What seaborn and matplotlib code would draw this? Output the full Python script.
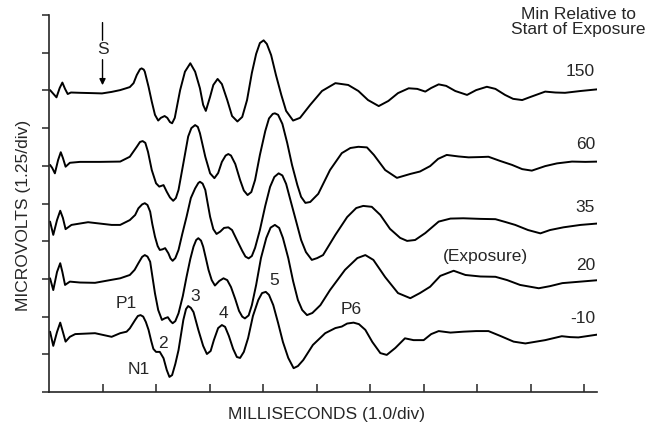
import matplotlib
matplotlib.use("Agg")
import matplotlib.pyplot as plt
import seaborn as sns
import pandas as pd

# ---- data (ms, microvolts) ----
labels = ["150", "60", "35", "20", "-10"]

t150_x = [0.02, 0.07, 0.14, 0.20, 0.25, 0.30, 0.35, 0.41, 0.58, 0.80, 0.99, 1.17, 1.33, 1.44, 1.51, 1.58,
          1.64, 1.70, 1.73, 1.77, 1.79, 1.86, 1.92, 1.98, 2.04, 2.09, 2.16, 2.21, 2.26, 2.30, 2.35, 2.39,
          2.45, 2.54, 2.64, 2.73, 2.82, 2.88, 2.93, 3.01, 3.07, 3.15, 3.23, 3.33, 3.42, 3.52, 3.61, 3.70,
          3.79, 3.87, 3.94, 4.01, 4.07, 4.15, 4.24, 4.34, 4.43, 4.56, 4.69, 4.88, 5.10, 5.35, 5.59, 5.78,
          5.96, 6.16, 6.34, 6.52, 6.72, 6.88, 7.03, 7.14, 7.28, 7.42, 7.59, 7.81, 7.98, 8.18, 8.34, 8.52,
          8.67, 8.84, 8.99, 9.27, 9.46, 9.64, 9.93, 10.27]
t150_y = [10.01, 9.91, 9.77, 10.08, 10.26, 10.05, 9.88, 9.93, 9.92, 9.91, 9.90, 9.95, 10.01, 10.07, 10.11, 10.24,
          10.51, 10.70, 10.73, 10.69, 10.62, 10.12, 9.63, 9.19, 9.00, 9.09, 9.15, 9.09, 8.95, 8.91, 9.09, 9.46,
          10.01, 10.62, 10.90, 10.62, 10.07, 9.52, 9.32, 9.79, 10.18, 10.38, 10.21, 9.68, 9.15, 8.97, 9.12, 9.68,
          10.58, 11.21, 11.57, 11.66, 11.54, 11.17, 10.51, 9.85, 9.32, 9.00, 9.09, 9.52, 9.98, 10.24, 10.18, 9.98,
          9.68, 9.48, 9.65, 9.91, 10.07, 10.05, 9.96, 10.08, 10.20, 10.15, 9.98, 9.85, 10.01, 10.12, 10.05, 9.85,
          9.72, 9.68, 9.78, 9.96, 9.93, 9.92, 9.98, 10.04]

t60_x = [0.02, 0.06, 0.11, 0.17, 0.22, 0.26, 0.31, 0.39, 0.58, 0.95, 1.33, 1.51, 1.64, 1.70, 1.75, 1.80,
         1.85, 1.92, 2.00, 2.06, 2.14, 2.20, 2.26, 2.32, 2.37, 2.42, 2.51, 2.60, 2.66, 2.73, 2.78, 2.82,
         2.92, 3.01, 3.09, 3.16, 3.23, 3.30, 3.35, 3.40, 3.48, 3.57, 3.64, 3.71, 3.78, 3.85, 3.94, 4.04,
         4.11, 4.18, 4.22, 4.28, 4.36, 4.45, 4.54, 4.64, 4.71, 4.79, 4.88, 5.03, 5.25, 5.47, 5.63, 5.78,
         5.94, 6.07, 6.28, 6.50, 6.75, 6.93, 7.12, 7.27, 7.43, 7.65, 7.84, 8.06, 8.21, 8.43, 8.65, 8.84,
         9.02, 9.27, 9.49, 9.77, 10.02, 10.27]
t60_y = [7.53, 7.43, 7.25, 7.69, 7.95, 7.76, 7.47, 7.60, 7.63, 7.63, 7.64, 7.80, 8.13, 8.29, 8.32, 8.26,
         7.96, 7.36, 6.92, 6.81, 6.86, 6.64, 6.45, 6.34, 6.43, 6.70, 7.58, 8.47, 8.75, 8.85, 8.79, 8.58,
         7.80, 7.25, 7.09, 7.26, 7.63, 7.84, 7.89, 7.84, 7.56, 7.03, 6.68, 6.53, 6.63, 7.03, 7.86, 8.65,
         9.07, 9.22, 9.24, 9.19, 8.89, 8.26, 7.53, 6.86, 6.47, 6.27, 6.30, 6.57, 7.36, 7.92, 8.09, 8.13,
         8.11, 7.86, 7.36, 7.10, 7.23, 7.31, 7.49, 7.73, 7.86, 7.81, 7.78, 7.79, 7.80, 7.66, 7.53, 7.39,
         7.34, 7.49, 7.58, 7.64, 7.63, 7.64]

t35_x = [0.02, 0.08, 0.15, 0.21, 0.26, 0.31, 0.42, 0.73, 1.17, 1.33, 1.51, 1.61, 1.67, 1.74, 1.79, 1.84,
         1.89, 1.93, 1.98, 2.03, 2.07, 2.12, 2.17, 2.23, 2.27, 2.31, 2.36, 2.42, 2.49, 2.57, 2.65, 2.73,
         2.79, 2.82, 2.87, 2.92, 2.96, 3.01, 3.07, 3.13, 3.20, 3.27, 3.35, 3.42, 3.51, 3.61, 3.67, 3.73,
         3.79, 3.85, 3.94, 4.04, 4.13, 4.21, 4.29, 4.36, 4.43, 4.52, 4.62, 4.71, 4.80, 4.91, 5.01, 5.12,
         5.35, 5.57, 5.74, 5.87, 6.03, 6.19, 6.37, 6.56, 6.69, 6.84, 7.03, 7.28, 7.50, 7.74, 8.06, 8.34,
         8.52, 8.71, 8.95, 9.18, 9.36, 9.61, 9.93, 10.27]
t35_y = [5.65, 5.21, 5.70, 6.01, 5.77, 5.40, 5.54, 5.63, 5.54, 5.54, 5.70, 5.87, 6.09, 6.22, 6.26, 6.20,
         5.98, 5.57, 5.15, 4.84, 4.71, 4.73, 4.77, 4.60, 4.43, 4.35, 4.44, 4.71, 5.24, 5.81, 6.43, 6.75,
         6.93, 6.97, 6.91, 6.70, 6.30, 5.81, 5.40, 5.24, 5.32, 5.44, 5.46, 5.37, 5.04, 4.68, 4.49, 4.43,
         4.51, 4.78, 5.37, 6.17, 6.80, 7.13, 7.25, 7.18, 6.90, 6.30, 5.64, 5.04, 4.64, 4.38, 4.44, 4.54,
         5.21, 5.80, 6.10, 6.17, 6.14, 5.87, 5.41, 5.11, 5.01, 5.04, 5.27, 5.65, 5.75, 5.76, 5.74, 5.73,
         5.64, 5.54, 5.37, 5.26, 5.37, 5.46, 5.54, 5.59]

t20_x = [0.02, 0.08, 0.15, 0.21, 0.25, 0.30, 0.39, 0.58, 0.86, 1.14, 1.33, 1.51, 1.60, 1.67, 1.74, 1.79,
         1.84, 1.89, 1.93, 1.98, 2.04, 2.11, 2.16, 2.22, 2.27, 2.31, 2.36, 2.42, 2.50, 2.57, 2.64, 2.70,
         2.75, 2.79, 2.84, 2.88, 2.93, 2.98, 3.04, 3.10, 3.18, 3.26, 3.33, 3.40, 3.48, 3.55, 3.61, 3.66,
         3.73, 3.79, 3.87, 3.96, 4.06, 4.14, 4.22, 4.30, 4.37, 4.47, 4.56, 4.65, 4.73, 4.82, 4.92, 5.07,
         5.25, 5.53, 5.76, 5.91, 6.06, 6.28, 6.52, 6.75, 6.93, 7.12, 7.31, 7.56, 7.78, 8.06, 8.34, 8.56,
         8.80, 9.15, 9.36, 9.59, 9.93, 10.27]
t20_y = [3.77, 3.38, 3.98, 4.27, 3.98, 3.55, 3.66, 3.63, 3.62, 3.71, 3.77, 3.88, 4.05, 4.27, 4.48, 4.54,
         4.49, 4.32, 3.85, 3.27, 2.72, 2.39, 2.44, 2.48, 2.35, 2.28, 2.35, 2.61, 3.18, 3.82, 4.41, 4.82,
         5.04, 5.10, 5.02, 4.82, 4.44, 4.05, 3.71, 3.53, 3.68, 3.77, 3.71, 3.48, 3.08, 2.69, 2.50, 2.44,
         2.54, 2.88, 3.55, 4.44, 5.11, 5.45, 5.54, 5.44, 5.11, 4.44, 3.68, 3.05, 2.72, 2.55, 2.62, 2.88,
         3.38, 4.05, 4.44, 4.54, 4.38, 3.81, 3.28, 3.11, 3.28, 3.49, 3.85, 4.02, 3.88, 3.83, 3.82, 3.71,
         3.55, 3.44, 3.51, 3.61, 3.66, 3.71]

tm10_x = [0.02, 0.08, 0.15, 0.21, 0.26, 0.31, 0.39, 0.49, 0.86, 1.17, 1.33, 1.45, 1.51, 1.61, 1.66, 1.71,
          1.76, 1.81, 1.86, 1.91, 1.95, 2.00, 2.07, 2.14, 2.20, 2.25, 2.30, 2.36, 2.42, 2.51, 2.56, 2.60,
          2.65, 2.70, 2.79, 2.88, 2.95, 3.02, 3.08, 3.16, 3.23, 3.29, 3.36, 3.44, 3.51, 3.57, 3.64, 3.72,
          3.81, 3.91, 3.98, 4.05, 4.11, 4.19, 4.28, 4.37, 4.47, 4.57, 4.65, 4.75, 4.93, 5.16, 5.35, 5.47,
          5.57, 5.69, 5.79, 5.91, 6.04, 6.19, 6.31, 6.47, 6.65, 6.81, 7.00, 7.14, 7.28, 7.50, 7.74, 7.98,
          8.21, 8.43, 8.68, 8.90, 9.27, 9.58, 9.74, 9.89, 10.27]
tm10_y = [2.00, 1.53, 1.99, 2.30, 1.99, 1.67, 1.83, 1.92, 1.95, 1.83, 1.95, 2.00, 2.11, 2.39, 2.52, 2.55,
          2.50, 2.32, 2.06, 1.69, 1.43, 1.33, 1.33, 1.12, 0.73, 0.50, 0.56, 0.93, 1.39, 2.39, 2.75, 2.85,
          2.79, 2.65, 2.06, 1.53, 1.26, 1.36, 1.72, 2.12, 2.22, 2.16, 1.86, 1.43, 1.16, 1.13, 1.33, 1.79,
          2.52, 3.05, 3.28, 3.32, 3.22, 2.88, 2.29, 1.66, 1.13, 0.79, 0.86, 1.06, 1.56, 1.95, 2.12, 2.17,
          2.27, 2.30, 2.25, 2.06, 1.66, 1.29, 1.23, 1.46, 1.78, 1.72, 1.72, 1.92, 2.02, 1.97, 2.00, 2.02,
          2.02, 1.86, 1.67, 1.61, 1.72, 1.85, 1.82, 1.81, 1.91]

xs = [t150_x, t60_x, t35_x, t20_x, tm10_x]
ys = [t150_y, t60_y, t35_y, t20_y, tm10_y]

# label positions (data coords)
label_y = [10.61, 8.19, 6.13, 4.18, 2.45]
peak_names = ["P1", "N1", "2", "3", "4", "5", "P6"]
peak_x = [1.45, 1.67, 2.12, 2.73, 3.25, 4.21, 5.64]
peak_y = [2.94, 0.73, 1.61, 3.18, 2.61, 3.69, 2.74]

frames = []
for lab, x, y in zip(labels, xs, ys):
    frames.append(pd.DataFrame({"ms": x, "uV": y, "trace": lab}))
df = pd.concat(frames, ignore_index=True)

sns.set_style("ticks")
plt.rcParams["font.family"] = ["Liberation Sans", "DejaVu Sans"]

fig = plt.figure(figsize=(6.62, 4.26), dpi=100)
ax = fig.add_axes([0.074, 0.0798, 0.828, 0.885])

sns.lineplot(data=df, x="ms", y="uV", hue="trace", units="trace", estimator=None, sort=False,
             palette={l: "black" for l in labels}, linewidth=1.4, legend=False, ax=ax,
             solid_joinstyle="round", solid_capstyle="round")

ax.set_xlim(0, 10.24)
ax.set_ylim(0, 12.5)
ax.set_xticks([1, 2, 3, 4, 5, 6, 7, 8, 9, 10])
ax.set_yticks([i * 1.25 for i in range(11)])
ax.tick_params(axis="x", direction="in", length=6, width=1.1, labelbottom=False)
ax.tick_params(axis="y", direction="out", length=5, width=1.1, labelleft=False)
for s in ["top", "right"]:
    ax.spines[s].set_visible(False)
for s in ["left", "bottom"]:
    ax.spines[s].set_linewidth(1.2)
ax.set_xlabel("")
ax.set_ylabel("")

fs = 12.5
for lab, yy in zip(labels, label_y):
    ax.text(10.2, yy, lab, ha="right", va="center", fontsize=fs)
for name, px, py in zip(peak_names, peak_x, peak_y):
    ax.text(px, py, name, ha="center", va="center", fontsize=fs)
ax.text(8.15, 4.49, "(Exposure)", ha="center", va="center", fontsize=fs)
ax.text(9.89, 12.28, "Min Relative to\nStart of Exposure", ha="center", va="center",
        fontsize=fs, multialignment="center", linespacing=1.0, clip_on=False)

# stimulus marker
ax.text(1.0, 11.34, "S", ha="center", va="center", fontsize=fs)
ax.annotate("", xy=(1.0, 11.57), xytext=(1.0, 12.34),
            arrowprops=dict(arrowstyle="-", color="black", lw=1.0), annotation_clip=False)
ax.annotate("", xy=(1.0, 10.08), xytext=(1.0, 11.11),
            arrowprops=dict(arrowstyle="-|>", color="black", lw=1.0, mutation_scale=9))

fig.text(24 / 662, 1 - 215 / 426, "MICROVOLTS (1.25/div)", rotation=90, ha="center", va="center", fontsize=fs)
fig.text(326 / 662, 1 - 414 / 426, "MILLISECONDS (1.0/div)", ha="center", va="center", fontsize=fs)

fig.savefig("out.png", dpi=100)
